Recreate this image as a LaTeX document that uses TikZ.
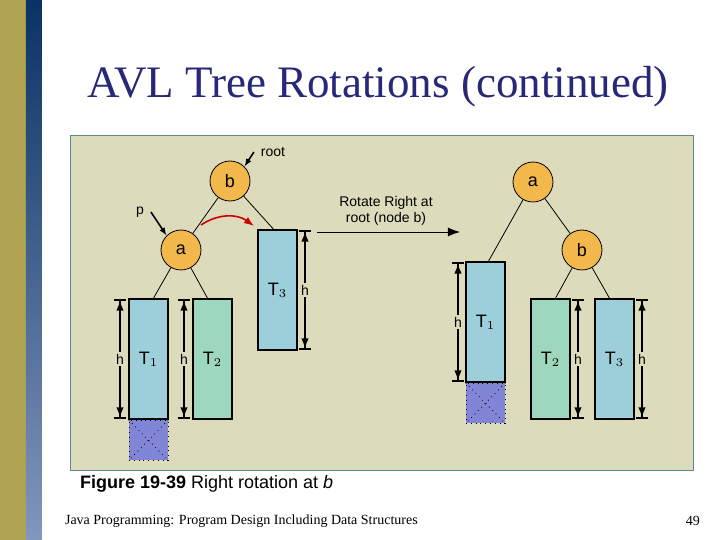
\documentclass[tikz,border=0pt]{standalone}
\usepackage{fontspec}
\setmainfont{Liberation Serif}
\newfontfamily\panelfont{Liberation Sans}
\usetikzlibrary{arrows.meta,positioning,calc}
\definecolor{olivebar}{RGB}{176,164,82}
\definecolor{navytop}{RGB}{10,50,100}
\definecolor{navybot}{RGB}{130,150,190}
\definecolor{panelbg}{RGB}{220,220,188}
\definecolor{panelrim}{RGB}{90,140,140}
\definecolor{titleblue}{RGB}{40,40,120}
\definecolor{nodeorange}{RGB}{242,184,75}
\definecolor{treeblue}{RGB}{156,207,217}
\definecolor{treegreen}{RGB}{157,216,190}
\definecolor{lostblue}{RGB}{128,133,214}
\tikzset{
  treenode/.style={circle,draw,fill=nodeorange,minimum size=20pt,inner sep=0pt,font=\panelfont\small},
  subtree/.style={draw,thick,fill=#1,minimum width=19.5pt,minimum height=60pt,inner sep=0pt,font=\panelfont\small},
  extra/.style={draw,dotted,fill=lostblue,minimum width=19.5pt,minimum height=20pt,inner sep=0pt},
  harrow/.style={thick,{Bar[width=6pt]Latex[length=5pt]}-{Latex[length=5pt]Bar[width=6pt]}},
  lbl/.style={font=\panelfont\scriptsize,fill=panelbg,inner sep=1pt}
}
\begin{document}
\begin{tikzpicture}[x=0.5pt,y=-0.5pt]
\useasboundingbox (0,0) rectangle (720,540);
\fill[white] (0,0) rectangle (720,540);
% side bars
\fill[olivebar] (0,0) rectangle (26,540);
\shade[top color=navytop,bottom color=navybot] (26,0) rectangle (42,540);
\node[titleblue,font=\fontsize{22.5}{26}\selectfont] (title) at (378,87) {AVL Tree Rotations (continued)};
% panel
\draw[panelrim,fill=panelbg] (70,135) rectangle (693,470);
% left tree
\node[treenode] (b) at (230,181) {b};
\node[treenode] (a) at (181,250) {a};
\node[subtree=treeblue] (t3) at (277.5,290) {T$_3$};
\node[subtree=treeblue] (t1) at (148.5,359) {T$_1$};
\node[subtree=treegreen] (t2) at (212.5,359) {T$_2$};
\node[extra,below=0pt of t1] (x1) {};
\draw[dotted] (x1.north west) -- (x1.south east) (x1.north east) -- (x1.south west);
\draw (b) -- (a) (b) -- ($(t3.north)+(-4,0)$) (a) -- ($(t1.north)+(5,0)$) (a) -- ($(t2.north)+(-5,0)$);
\draw[harrow] (120,299) -- node[lbl] {h} (120,419);
\draw[harrow] (184,299) -- node[lbl] {h} (184,419);
\draw[harrow] (305,230) -- node[lbl] {h} (305,350);
\node[font=\panelfont\scriptsize] (rootlbl) at (273,152) {root};
\draw[-{Latex[length=4pt]},thick] (rootlbl.west) -- (b.north east);
\node[font=\panelfont\scriptsize] (plbl) at (140,212) {p};
\draw[-{Latex[length=4pt]},thick] (plbl.east) -- (a.north west);
\coordinate (rs) at (201,225);
\coordinate (re) at (254,226);
\draw[red!80!black,thick,-{Latex[length=5pt]}] (rs) to[bend left=35] (re);
% rotate arrow
\coordinate (ls) at (317,232);
\coordinate (le) at (460,232);
\draw[-{Latex[length=6pt]}] (ls) -- (le);
\node[font=\panelfont\scriptsize,align=center] (rot) at (386,211) {Rotate Right at\\root (node b)};
% right tree
\node[treenode] (ra) at (533,182) {a};
\node[treenode] (rb) at (582,250) {b};
\node[subtree=treeblue] (rt1) at (485.5,322) {T$_1$};
\node[extra,below=0pt of rt1] (rx1) {};
\draw[dotted] (rx1.north west) -- (rx1.south east) (rx1.north east) -- (rx1.south west);
\node[subtree=treegreen] (rt2) at (550.5,359) {T$_2$};
\node[subtree=treeblue] (rt3) at (614.5,359) {T$_3$};
\draw (ra) -- (rb) (ra) -- ($(rt1.north)+(3,0)$) (rb) -- ($(rt2.north)+(5,0)$) (rb) -- ($(rt3.north)+(-5,0)$);
\draw[harrow] (458,262) -- node[lbl] {h} (458,382);
\draw[harrow] (578,299) -- node[lbl] {h} (578,419);
\draw[harrow] (642,299) -- node[lbl] {h} (642,419);
% captions
\node[anchor=west,font=\panelfont\small] (cap) at (73,484) {\textbf{Figure 19-39} Right rotation at \textit{b}};
\node[anchor=west,font=\fontsize{7}{8}\selectfont] (foot) at (58,521) {Java Programming: Program Design Including Data Structures};
\node[font=\fontsize{7}{8}\selectfont] (page) at (693,521) {49};
\end{tikzpicture}
\end{document}
